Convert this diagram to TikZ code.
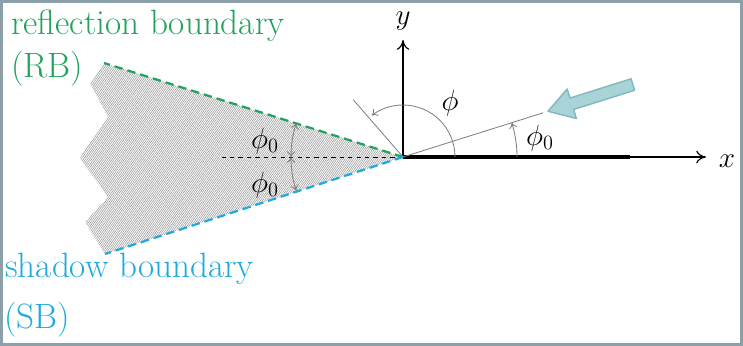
\documentclass[tikz,border=0pt]{standalone}
\usepackage{amsmath,amssymb}
\usepackage{xcolor}
\usepackage{tikz}
\usetikzlibrary{arrows.meta,patterns.meta}
\definecolor{rbgreen}{RGB}{34,163,92}
\definecolor{sbblue}{RGB}{32,170,222}
\definecolor{framegray}{RGB}{140,160,170}
\definecolor{wavefill}{RGB}{168,212,216}
\definecolor{wavedraw}{RGB}{128,184,190}
\definecolor{anglegray}{RGB}{128,128,128}
\definecolor{hatchgray}{RGB}{150,150,150}

\begin{document}
\begin{tikzpicture}[
  x=0.025cm, y=0.025cm,
  every node/.style={inner sep=0pt},
  txt/.style={font=\fontsize{25}{30}\selectfont, anchor=base west},
  lbl/.style={font=\fontsize{21}{25}\selectfont},
  axis/.style={-{To[length=7pt,width=9pt]}, line width=0.8pt},
  ang/.style={color=anglegray, line width=0.6pt},
  angarr/.style={ang, -{To[length=4pt,width=6pt]}},
  angboth/.style={ang, {To[length=4pt,width=6pt]}-{To[length=4pt,width=6pt]}},
  bnd/.style={line width=1.6pt, dash pattern=on 6pt off 3.5pt}
]
  \useasboundingbox (0,0) rectangle (743,346);
  \draw[framegray, line width=2pt] (1.5,1.5) rectangle (741.5,344.5);

  % edge and axes
  \coordinate (O)    at (403,189);
  \coordinate (xtip) at (706,189);
  \coordinate (ytip) at (403,306);
  \coordinate (edge) at (630,189);
  \coordinate (rbend) at (104,283);
  \coordinate (sbend) at (105,92);
  \coordinate (mid)  at (218,189);

  % shadowed region
  \fill[pattern={Lines[angle=55,distance=1.2pt,line width=0.4pt]}, pattern color=hatchgray]
    (O) -- (rbend) -- (90,263) -- (108,229) -- (80,188) -- (108,149) -- (85,124) -- (sbend) -- cycle;

  \draw[axis] (O) -- (xtip);
  \draw[axis] (O) -- (ytip);
  \draw[line width=2.2pt] (O) -- (edge);
  \node[lbl] (xlbl) at (727,185) {$x$};
  \node[lbl] (ylbl) at (403,325) {$y$};

  % incidence and observation
  \coordinate (inc)  at ([shift={(17.5:147)}]O);
  \coordinate (tip)  at ([shift={(17.5:152)}]O);
  \coordinate (obs)  at ([shift={(131:76)}]O);
  \draw[ang] (O) -- (inc);
  \draw[ang] (O) -- (obs);
  \draw[angarr] ([shift={(0:114)}]O) arc[start angle=0, end angle=17.5, radius=114];
  \draw[angarr] ([shift={(0:52)}]O) arc[start angle=0, end angle=127, radius=52];
  \node[lbl] (phi)  at (450,243) {$\phi$};
  \node[lbl] (phir) at (540,208) {$\phi_0$};

  \begin{scope}[shift={(tip)}, rotate=17.5]
    \draw[fill=wavefill, draw=wavedraw, line width=1pt, line join=round]
      (0,0) -- (25,15.5) -- (25,6) -- (89,6) -- (89,-6) -- (25,-6) -- (25,-15.5) -- cycle;
  \end{scope}

  % boundaries
  \draw[dashed, line width=0.6pt] (O) -- (mid);
  \draw[bnd, rbgreen] (O) -- (rbend);
  \draw[bnd, sbblue] (O) -- (sbend);
  \draw[angboth] ([shift={(180:112)}]O) arc[start angle=180, end angle=162.5, radius=112];
  \draw[angboth] ([shift={(180:112)}]O) arc[start angle=180, end angle=197.5, radius=112];
  \node[lbl] (phiu) at (265,205) {$\phi_0$};
  \node[lbl] (phid) at (265,161) {$\phi_0$};

  % labels
  \node[txt, text=rbgreen] (rbtext) at (11,311) {reflection boundary};
  \node[txt, text=rbgreen] (rbabbr) at (11,268) {(RB)};
  \node[txt, text=sbblue] (sbtext) at (5,68) {shadow boundary};
  \node[txt, text=sbblue] (sbabbr) at (4,17) {(SB)};
\end{tikzpicture}
\end{document}
